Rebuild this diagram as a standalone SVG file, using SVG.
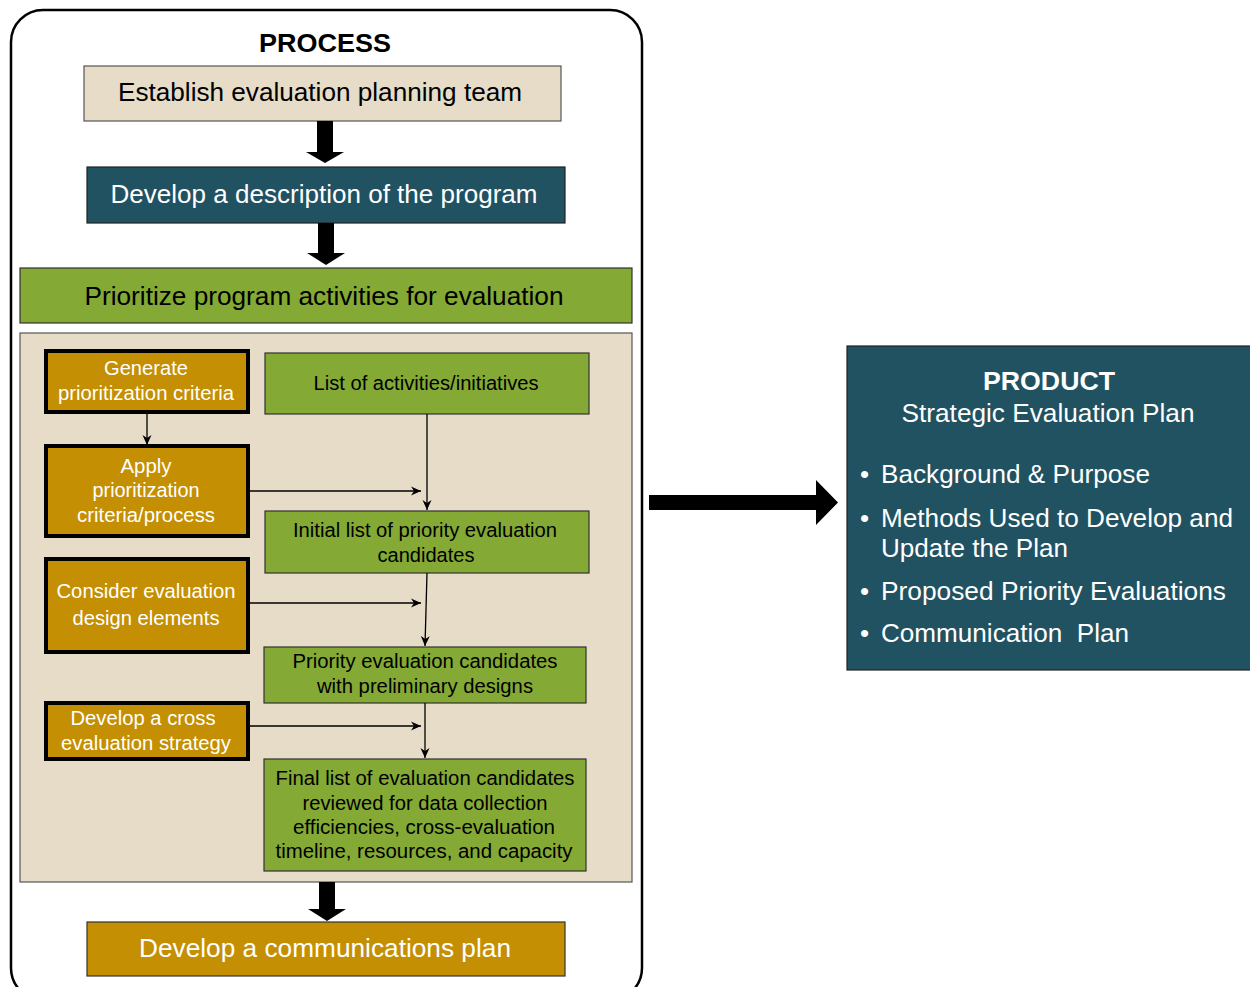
<svg xmlns="http://www.w3.org/2000/svg" width="1250" height="987" viewBox="0 0 1250 987">
<defs>
<style>
text{font-family:"Liberation Sans",Arial,sans-serif;}
.big{font-size:26px;text-anchor:middle;}
.sm{font-size:20px;text-anchor:middle;}
.w{fill:#ffffff;}
.k{fill:#000000;}
.beige{fill:#e6dcc7;stroke:#555;stroke-width:1.2;}
.teal{fill:#215261;stroke:#222;stroke-width:1.2;}
.green{fill:#84a934;stroke:#333;stroke-width:1.2;}
.gold{fill:#c48f02;stroke:#333;stroke-width:1.2;}
.goldk{fill:#c48f02;stroke:#000;stroke-width:4;}
.ln{stroke:#000;stroke-width:1.3;fill:none;}
.blk{fill:#000;}
</style>
<marker id="ah" viewBox="0 0 10 10" refX="10" refY="5" markerWidth="10" markerHeight="10" markerUnits="userSpaceOnUse" orient="auto">
<path d="M0,0.5 L10,5 L0,9.5 L3,5 z" fill="#000"/>
</marker>
</defs>
<rect width="1250" height="987" fill="#ffffff"/>
<rect x="11" y="10" width="631" height="990" rx="32" ry="32" fill="none" stroke="#000" stroke-width="2.5"/>
<text x="325" y="52" style="font-size:26px;font-weight:bold;text-anchor:middle" fill="#000" textLength="132" lengthAdjust="spacingAndGlyphs">PROCESS</text>

<g id="n-establish">
<rect class="beige" x="84" y="66" width="477" height="55"/>
<text class="big k" x="320" y="101" textLength="404" lengthAdjust="spacingAndGlyphs">Establish evaluation planning team</text>
</g>
<g id="n-describe">
<rect class="teal" x="87" y="167" width="478" height="56"/>
<text class="big w" x="324" y="203" textLength="427" lengthAdjust="spacingAndGlyphs">Develop a description of the program</text>
</g>
<g id="n-prioritize">
<rect class="green" x="20" y="268" width="612" height="55"/>
<text class="big k" x="324" y="305" textLength="479" lengthAdjust="spacingAndGlyphs">Prioritize program activities for evaluation</text>
</g>
<g id="n-container">
<rect class="beige" x="20" y="333" width="612" height="549"/>
</g>
<g id="n-generate">
<rect class="goldk" x="46" y="351" width="202" height="61"/>
<text class="sm w" x="146" y="375" textLength="84" lengthAdjust="spacingAndGlyphs">Generate</text>
<text class="sm w" x="146" y="400" textLength="176" lengthAdjust="spacingAndGlyphs">prioritization criteria</text>
</g>
<g id="n-list">
<rect class="green" x="265" y="353" width="324" height="61"/>
<text class="sm k" x="426" y="390" textLength="225" lengthAdjust="spacingAndGlyphs">List of activities/initiatives</text>
</g>
<g id="n-apply">
<rect class="goldk" x="46" y="446" width="202" height="90"/>
<text class="sm w" x="146" y="473" textLength="51" lengthAdjust="spacingAndGlyphs">Apply</text>
<text class="sm w" x="146" y="497" textLength="107" lengthAdjust="spacingAndGlyphs">prioritization</text>
<text class="sm w" x="146" y="522" textLength="138" lengthAdjust="spacingAndGlyphs">criteria/process</text>
</g>
<g id="n-initial">
<rect class="green" x="265" y="511" width="324" height="62"/>
<text class="sm k" x="425" y="537" textLength="264" lengthAdjust="spacingAndGlyphs">Initial list of priority evaluation</text>
<text class="sm k" x="426" y="562" textLength="97" lengthAdjust="spacingAndGlyphs">candidates</text>
</g>
<g id="n-consider">
<rect class="goldk" x="46" y="559" width="202" height="93"/>
<text class="sm w" x="146" y="598" textLength="179" lengthAdjust="spacingAndGlyphs">Consider evaluation</text>
<text class="sm w" x="146" y="625" textLength="147" lengthAdjust="spacingAndGlyphs">design elements</text>
</g>
<g id="n-priority">
<rect class="green" x="264" y="647" width="322" height="56"/>
<text class="sm k" x="425" y="668" textLength="265" lengthAdjust="spacingAndGlyphs">Priority evaluation candidates</text>
<text class="sm k" x="425" y="693" textLength="216" lengthAdjust="spacingAndGlyphs">with preliminary designs</text>
</g>
<g id="n-cross">
<rect class="goldk" x="46" y="703" width="202" height="56"/>
<text class="sm w" x="143" y="725" textLength="145" lengthAdjust="spacingAndGlyphs">Develop a cross</text>
<text class="sm w" x="146" y="750" textLength="170" lengthAdjust="spacingAndGlyphs">evaluation strategy</text>
</g>
<g id="n-final">
<rect class="green" x="264" y="759" width="322" height="112"/>
<text class="sm k" x="425" y="785" textLength="299" lengthAdjust="spacingAndGlyphs">Final list of evaluation candidates</text>
<text class="sm k" x="425" y="810" textLength="245" lengthAdjust="spacingAndGlyphs">reviewed for data collection</text>
<text class="sm k" x="424" y="834" textLength="262" lengthAdjust="spacingAndGlyphs">efficiencies, cross-evaluation</text>
<text class="sm k" x="424" y="858" textLength="297" lengthAdjust="spacingAndGlyphs">timeline, resources, and capacity</text>
</g>
<g id="n-comm">
<rect class="gold" x="87" y="922" width="478" height="54"/>
<text class="big w" x="325" y="957" textLength="372" lengthAdjust="spacingAndGlyphs">Develop a communications plan</text>
</g>
<g id="n-product">
<rect x="847" y="346" width="410" height="324" fill="#215261" stroke="#222" stroke-width="1.2"/>
<text x="1049" y="390" style="font-size:26px;font-weight:bold;text-anchor:middle" fill="#fff" textLength="132" lengthAdjust="spacingAndGlyphs">PRODUCT</text>
<text x="1048" y="422" style="font-size:26px;text-anchor:middle" fill="#fff" textLength="293" lengthAdjust="spacingAndGlyphs">Strategic Evaluation Plan</text>
<g style="font-size:26px" fill="#fff">
<text x="860" y="483">•</text><text x="881" y="483" textLength="269" lengthAdjust="spacingAndGlyphs">Background &amp; Purpose</text>
<text x="860" y="527">•</text><text x="881" y="527" textLength="352" lengthAdjust="spacingAndGlyphs">Methods Used to Develop and</text>
<text x="881" y="557" textLength="187" lengthAdjust="spacingAndGlyphs">Update the Plan</text>
<text x="860" y="600">•</text><text x="881" y="600" textLength="345" lengthAdjust="spacingAndGlyphs">Proposed Priority Evaluations</text>
<text x="860" y="642">•</text><text x="881" y="642" textLength="248" lengthAdjust="spacingAndGlyphs" xml:space="preserve">Communication  Plan</text>
</g>
</g>

<g id="connectors">
<polygon class="blk" points="317,121 333,121 333,152 344,152 325,163 306,152 317,152"/>
<polygon class="blk" points="318,223 334,223 334,253 345,253 326,265 307,253 318,253"/>
<polygon class="blk" points="319,882 335,882 335,909 346,909 327,921 308,909 319,909"/>
<polygon class="blk" points="649,495 816,495 816,480 838,502.5 816,525 816,510 649,510"/>
<line class="ln" x1="147" y1="412" x2="147" y2="445" marker-end="url(#ah)"/>
<line class="ln" x1="427" y1="414" x2="427" y2="510" marker-end="url(#ah)"/>
<line class="ln" x1="248" y1="491" x2="421" y2="491" marker-end="url(#ah)"/>
<line class="ln" x1="427" y1="573" x2="425" y2="646" marker-end="url(#ah)"/>
<line class="ln" x1="248" y1="603" x2="421" y2="603" marker-end="url(#ah)"/>
<line class="ln" x1="425" y1="703" x2="425" y2="758" marker-end="url(#ah)"/>
<line class="ln" x1="248" y1="726" x2="421" y2="726" marker-end="url(#ah)"/>
</g>
</svg>
